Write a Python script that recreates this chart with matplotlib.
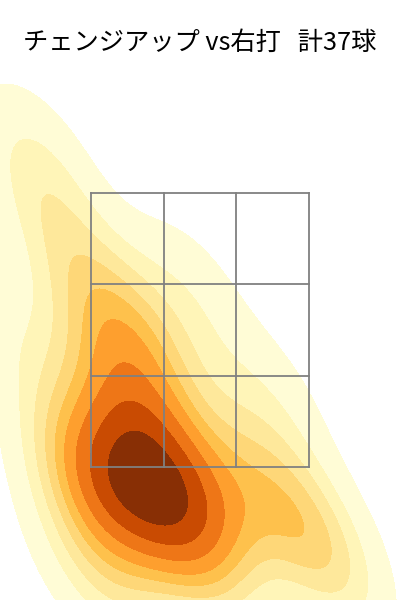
import numpy as np
import matplotlib
matplotlib.use("Agg")
import matplotlib.pyplot as plt
import seaborn as sns

# changeup locations vs RHB (plate_x, plate_z in ft, catcher view)
plate_x = [-0.88, -0.69, -0.46, -0.23, 0.00, 0.08, -0.11, -0.34, -0.57, -0.76, -0.42, -0.19, -0.61, -0.34,
           -0.69, -0.38, -0.53, -0.76, -0.34, -0.50, -0.61,
           -1.14, -1.29, -0.99, -1.33,
           0.76, 0.61, 1.03, 0.30, 0.08, 0.27, 0.53, -0.08, 0.91,
           -0.88, -0.61, -0.99]
plate_z = [1.48, 1.51, 1.49, 1.48, 1.37, 1.15, 1.04, 1.08, 1.15, 1.26, 1.33, 1.26, 1.41, 1.48,
           1.99, 2.03, 2.32, 2.46, 2.43, 1.84, 2.68,
           3.41, 3.81, 3.00, 2.35,
           1.15, 1.26, 0.71, 1.15, 0.64, 1.66, 1.99, 2.79, 0.93,
           0.82, 0.60, 1.41]

title = "チェンジアップ vs右打   計37球"
zone_x = [-0.83, 0.83]
zone_z = [1.5, 3.5]

fig = plt.figure(figsize=(4, 6), dpi=100)
ax = fig.add_axes([0, 0, 1, 1])

sns.kdeplot(x=plate_x, y=plate_z, fill=True, cmap="YlOrBr", ax=ax)

# strike zone 3x3
xs = np.linspace(zone_x[0], zone_x[1], 4)
zs = np.linspace(zone_z[0], zone_z[1], 4)
for x in xs:
    ax.plot([x, x], zone_z, color="gray", lw=1.3)
for z in zs:
    ax.plot(zone_x, [z, z], color="gray", lw=1.3)

ax.set_xlim(-1.523, 1.523)
ax.set_ylim(0.529, 4.909)
ax.axis("off")

fig.text(0.5, 0.928, title, ha="center", va="center", fontsize=18.2,
         family=["Noto Sans CJK JP", "DejaVu Sans"])

fig.savefig("out.png", dpi=100)
